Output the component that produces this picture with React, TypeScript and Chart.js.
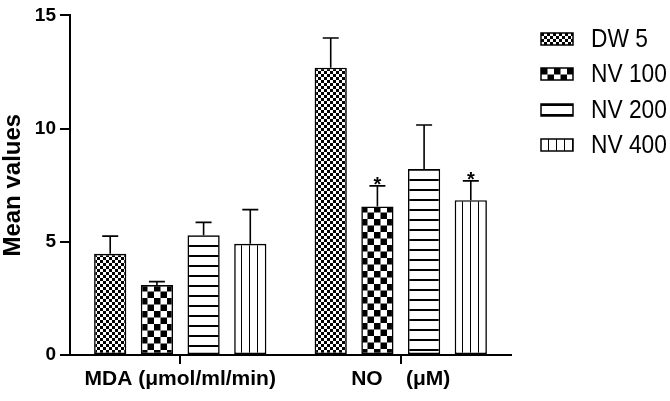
import React, { useEffect, useRef } from "react";
import { Chart, registerables } from "chart.js";

Chart.register(...registerables);

const categories = ["MDA (\u03BCmol/ml/min)", "NO    (\u03BCM)"];
const seriesNames = ["DW 5", "NV 100", "NV 200", "NV 400"];
const dw5 = [4.47, 12.69];
const nv100 = [3.09, 6.56];
const nv200 = [5.29, 8.22];
const nv400 = [4.91, 6.84];
const dw5Err = [0.78, 1.31];
const nv100Err = [0.15, 0.91];
const nv200Err = [0.57, 1.94];
const nv400Err = [1.51, 0.85];
const dw5Sig = ["", ""];
const nv100Sig = ["", "*"];
const nv200Sig = ["", ""];
const nv400Sig = ["", "*"];
const yMin = 0;
const yMax = 15;
const yStep = 5;

const seriesValues = [dw5, nv100, nv200, nv400];
const seriesErrors = [dw5Err, nv100Err, nv200Err, nv400Err];
const seriesSig = [dw5Sig, nv100Sig, nv200Sig, nv400Sig];
const patternKinds = ["fineCheck", "coarseCheck", "hLines", "vLines"];

const FONT = "'Liberation Sans', Arial, sans-serif";

function makePatternCanvas(kind: string): HTMLCanvasElement {
  const c = document.createElement("canvas");
  const g = c.getContext("2d")!;
  if (kind === "fineCheck") {
    c.width = 6; c.height = 6;
    g.fillStyle = "#fff"; g.fillRect(0, 0, 6, 6);
    g.fillStyle = "#000";
    g.fillRect(0, 0, 3, 3); g.fillRect(3, 3, 3, 3);
  } else if (kind === "coarseCheck") {
    c.width = 13; c.height = 13;
    g.fillStyle = "#fff"; g.fillRect(0, 0, 13, 13);
    g.fillStyle = "#000";
    g.fillRect(0, 0, 6.5, 6.5); g.fillRect(6.5, 6.5, 6.5, 6.5);
  } else if (kind === "hLines") {
    c.width = 4; c.height = 10;
    g.fillStyle = "#fff"; g.fillRect(0, 0, 4, 10);
    g.fillStyle = "#000";
    g.fillRect(0, 0, 4, 2);
  } else {
    c.width = 8; c.height = 4;
    g.fillStyle = "#fff"; g.fillRect(0, 0, 8, 4);
    g.fillStyle = "#000";
    g.fillRect(7, 0, 1.6, 4);
  }
  return c;
}

export default function App() {
  const ref = useRef<HTMLCanvasElement | null>(null);

  useEffect(() => {
    document.body.style.margin = "0";
    const canvas = ref.current!;
    const ctx = canvas.getContext("2d")!;
    const patternCanvases = patternKinds.map((k) => makePatternCanvas(k));
    const cache = new Map<string, CanvasPattern>();
    const getPattern = (ds: number, idx: number) => {
      const key = ds + "-" + idx;
      if (!cache.has(key)) {
        cache.set(key, ctx.createPattern(patternCanvases[ds], "repeat")!);
      }
      return cache.get(key)!;
    };

    const alignPatterns = {
      id: "alignPatterns",
      beforeDatasetsDraw(chart: any) {
        chart.data.datasets.forEach((_: any, i: number) => {
          const meta = chart.getDatasetMeta(i);
          meta.data.forEach((el: any) => {
            const bg = el.options && el.options.backgroundColor;
            if (bg && typeof bg.setTransform === "function") {
              const x0 = Math.round(el.x - el.width / 2);
              const y0 = Math.round(el.y);
              bg.setTransform(new DOMMatrix([1, 0, 0, 1, x0, y0]));
            }
          });
        });
      },
    };

    const errorBars = {
      id: "errorBars",
      afterDatasetsDraw(chart: any) {
        const c = chart.ctx;
        const yScale = chart.scales.y;
        c.save();
        c.strokeStyle = "#000";
        c.lineWidth = 1.6;
        chart.data.datasets.forEach((ds: any, i: number) => {
          const meta = chart.getDatasetMeta(i);
          meta.data.forEach((el: any, j: number) => {
            const v = seriesValues[i][j];
            const e = seriesErrors[i][j];
            const top = yScale.getPixelForValue(v + e);
            c.beginPath();
            c.moveTo(el.x, el.y);
            c.lineTo(el.x, top);
            c.moveTo(el.x - 8, top);
            c.lineTo(el.x + 8, top);
            c.stroke();
            const s = seriesSig[i][j];
            if (s) {
              c.fillStyle = "#000";
              c.font = "bold 20px " + FONT;
              c.textAlign = "center";
              c.textBaseline = "alphabetic";
              c.fillText(s, el.x, top + 5);
            }
          });
        });
        c.restore();
      },
    };

    const customLegend = {
      id: "customLegend",
      afterDraw(chart: any) {
        const c = chart.ctx;
        const area = chart.chartArea;
        const bx = area.right + 30;
        const by0 = 33;
        const rowH = 35.3;
        chart.data.datasets.forEach((ds: any, i: number) => {
          const by = Math.round(by0 + i * rowH);
          c.save();
          const pat = c.createPattern(patternCanvases[i], "repeat");
          pat.setTransform(new DOMMatrix([1, 0, 0, 1, bx, by]));
          c.fillStyle = pat;
          c.fillRect(bx, by, 32, 12);
          c.strokeStyle = "#000";
          c.lineWidth = 1.5;
          c.strokeRect(bx, by, 32, 12);
          c.fillStyle = "#000";
          c.font = "26px " + FONT;
          c.textAlign = "left";
          c.textBaseline = "middle";
          c.translate(bx + 50, by + 6.5);
          c.scale(0.875, 1);
          c.fillText(ds.label, 0, 0);
          c.restore();
        });
      },
    };

    const chart = new Chart(canvas, {
      type: "bar",
      data: {
        labels: categories,
        datasets: seriesNames.map((name, i) => ({
          label: name,
          data: seriesValues[i],
          backgroundColor: (context: any) => getPattern(i, context.dataIndex ?? 0),
          borderColor: "#000",
          borderWidth: 1.6,
          borderSkipped: false,
          barPercentage: 0.69,
          categoryPercentage: 0.847,
        })),
      },
      options: {
        responsive: false,
        animation: false,
        devicePixelRatio: 1,
        layout: { padding: { top: 12, right: 159, left: 0, bottom: 0 } },
        plugins: {
          legend: { display: false },
          tooltip: { enabled: false },
        },
        scales: {
          x: {
            type: "category",
            offset: true,
            afterFit(scale: any) { scale.height = 46; },
            grid: {
              display: true,
              offset: false,
              drawOnChartArea: false,
              drawTicks: true,
              tickLength: 9,
              color: "#000",
              lineWidth: 2,
            },
            border: { display: true, color: "#000", width: 2 },
            ticks: {
              color: "#000",
              font: { family: FONT, size: 21, weight: "bold" },
              padding: 3,
              maxRotation: 0,
              autoSkip: false,
            },
          },
          y: {
            min: yMin,
            max: yMax,
            afterFit(scale: any) { scale.width = 70; },
            grid: {
              display: true,
              drawOnChartArea: false,
              drawTicks: true,
              tickLength: 10,
              color: "#000",
              lineWidth: 2,
            },
            border: { display: true, color: "#000", width: 2 },
            ticks: {
              stepSize: yStep,
              color: "#000",
              font: { family: FONT, size: 19, weight: "bold" },
              padding: 4,
            },
            title: {
              display: true,
              text: "Mean values",
              color: "#000",
              font: { family: FONT, size: 24, weight: "bold", lineHeight: 1.1 },
              padding: { top: 0, bottom: 0 },
            },
          },
        },
      },
      plugins: [alignPatterns, errorBars, customLegend],
    } as any);

    return () => chart.destroy();
  }, []);

  return (
    <div style={{ position: "absolute", left: 0, top: 0, width: 670, height: 401, background: "#fff" }}>
      <canvas ref={ref} width={670} height={401} style={{ display: "block" }} />
    </div>
  );
}
